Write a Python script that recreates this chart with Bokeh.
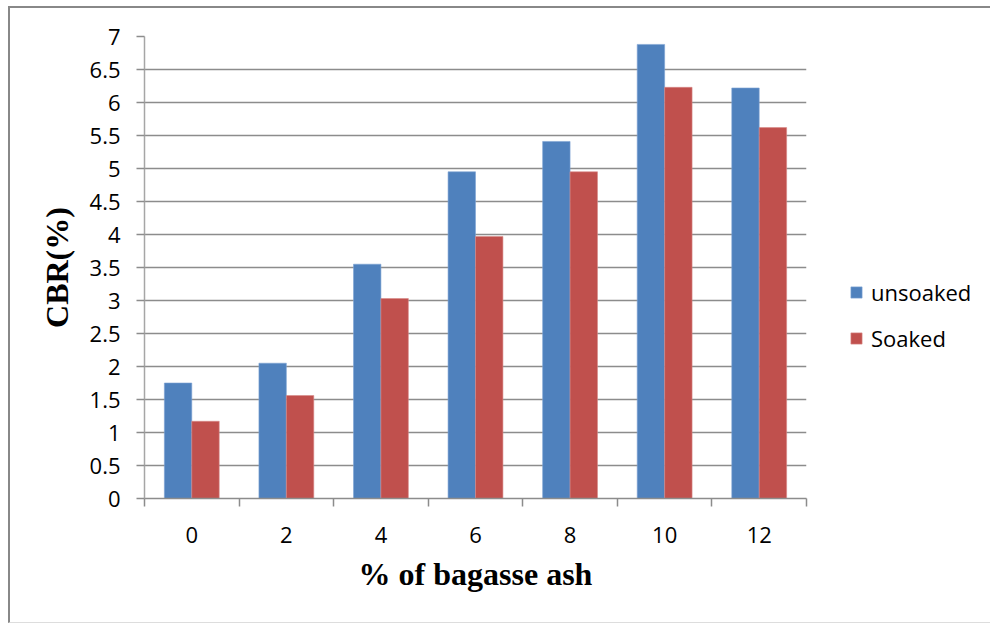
from bokeh.plotting import figure
from bokeh.models import ColumnDataSource, FixedTicker, Legend, LegendItem, Range1d
from bokeh.transform import dodge
from bokeh.embed import file_html
from bokeh.resources import INLINE

categories = ["0", "2", "4", "6", "8", "10", "12"]
unsoaked = [1.75, 2.05, 3.55, 4.95, 5.41, 6.88, 6.22]
soaked = [1.17, 1.56, 3.03, 3.97, 4.95, 6.23, 5.62]
y_ticks = [0, 0.5, 1, 1.5, 2, 2.5, 3, 3.5, 4, 4.5, 5, 5.5, 6, 6.5, 7]

centers = [i + 0.5 for i in range(len(categories))]
bounds = [i for i in range(len(categories) + 1)]

src = ColumnDataSource(dict(x=centers, unsoaked=unsoaked, soaked=soaked))

p = figure(frame_width=662, frame_height=462, output_backend="svg", toolbar_location=None,
           x_range=Range1d(0, len(categories)), y_range=Range1d(0, 7),
           min_border_left=134, min_border_right=180, min_border_top=28, min_border_bottom=124)
p.styles = {"margin-left": "8px", "margin-top": "6px",
            "border-left": "2px solid #888888", "border-top": "2px solid #888888",
            "border-bottom": "1px solid #dddddd"}
p.outline_line_color = None
p.background_fill_color = "white"
p.border_fill_color = "white"

bw = 0.29
r1 = p.vbar(x=dodge("x", -bw / 2), top="unsoaked", width=bw, source=src,
            fill_color="#4F81BD", line_color="#7ea3d3", line_width=0.6)
r2 = p.vbar(x=dodge("x", bw / 2), top="soaked", width=bw, source=src,
            fill_color="#C0504D", line_color="#d68a88", line_width=0.6)

# y axis
p.yaxis.ticker = FixedTicker(ticks=y_ticks)
p.yaxis.major_label_overrides = {t: (str(t) if t != int(t) else str(int(t))) for t in y_ticks}
p.yaxis.minor_tick_line_color = None
p.yaxis.major_tick_in = 0
p.yaxis.major_tick_out = 8
p.yaxis.axis_line_color = "#a6a6a6"
p.yaxis.axis_line_width = 1.5
p.yaxis.major_tick_line_color = "#8c8c8c"
p.yaxis.major_tick_line_width = 1.5
p.yaxis.major_label_text_font = "Open Sans"
p.yaxis.major_label_text_font_size = "22px"
p.yaxis.major_label_text_color = "black"
p.yaxis.major_label_standoff = 16
p.yaxis.axis_label = "CBR(%)"
p.yaxis.axis_label_text_font = "Liberation Serif"
p.yaxis.axis_label_text_font_style = "bold"
p.yaxis.axis_label_text_font_size = "32px"
p.yaxis.axis_label_text_color = "black"
p.yaxis.axis_label_standoff = 12

# x axis
p.xaxis.ticker = FixedTicker(ticks=centers, minor_ticks=bounds)
p.xaxis.major_label_overrides = {c: lab for c, lab in zip(centers, categories)}
p.xaxis.major_tick_line_color = None
p.xaxis.major_tick_in = 0
p.xaxis.major_tick_out = 0
p.xaxis.minor_tick_in = 0
p.xaxis.minor_tick_out = 8
p.xaxis.minor_tick_line_color = "#8c8c8c"
p.xaxis.minor_tick_line_width = 1.5
p.xaxis.axis_line_color = "#8c8c8c"
p.xaxis.axis_line_width = 1.5
p.xaxis.major_label_text_font = "Open Sans"
p.xaxis.major_label_text_font_size = "22px"
p.xaxis.major_label_text_color = "black"
p.xaxis.major_label_standoff = 20
p.xaxis.axis_label = "% of bagasse ash"
p.xaxis.axis_label_text_font = "Liberation Serif"
p.xaxis.axis_label_text_font_style = "bold"
p.xaxis.axis_label_text_font_size = "32px"
p.xaxis.axis_label_text_color = "black"
p.xaxis.axis_label_standoff = 10

p.xgrid.grid_line_color = None
p.ygrid.ticker = FixedTicker(ticks=y_ticks)
p.ygrid.grid_line_color = "#8c8c8c"
p.ygrid.grid_line_width = 1.5

legend = Legend(items=[LegendItem(label="unsoaked", renderers=[r1]),
                       LegendItem(label="Soaked", renderers=[r2])],
                location=(43, 145), orientation="vertical",
                glyph_width=14, glyph_height=14, label_text_font="Open Sans",
                label_text_font_size="22px", label_text_color="black",
                label_standoff=8, spacing=16, padding=0, margin=0,
                border_line_color=None, background_fill_alpha=0)
p.add_layout(legend, "right")

open("out.html", "w").write(file_html(p, INLINE))
